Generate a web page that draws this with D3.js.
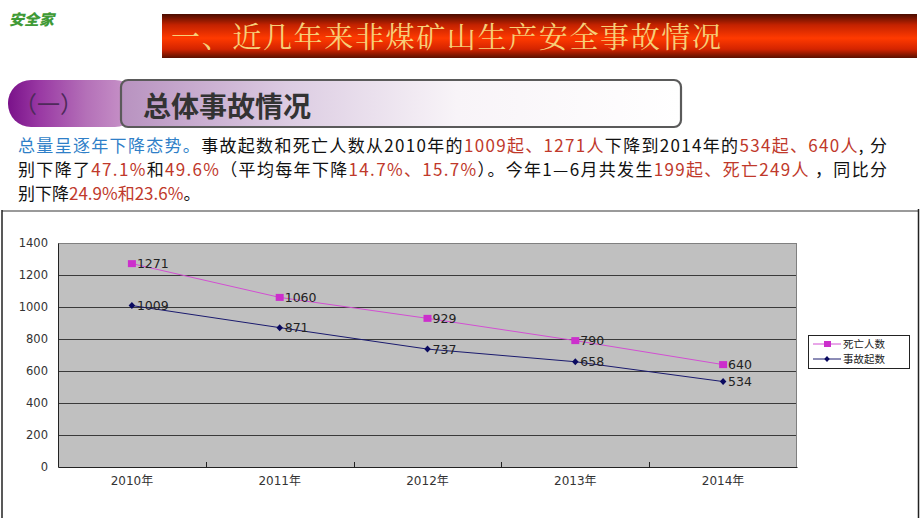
<!DOCTYPE html>
<html><head><meta charset="utf-8">
<script src="https://cdn.jsdelivr.net/npm/d3@7"></script>
<style>html,body{margin:0;padding:0;background:#fff;}svg{display:block;}</style>
</head><body>
<script>
const categories = ["2010年","2011年","2012年","2013年","2014年"];
const deaths = [1271,1060,929,790,640];     // 死亡人数
const accidents = [1009,871,737,658,534];   // 事故起数
const yTicks = [0,200,400,600,800,1000,1200,1400];
const seriesNames = ["死亡人数","事故起数"];

const W=920,H=518;
const svg=d3.select("body").append("svg").attr("width",W).attr("height",H);
const defs=svg.append("defs");
const CJK="'Noto Sans CJK SC','Noto Sans',sans-serif";

// logo
svg.append("text").attr("x",9).attr("y",25).attr("font-family",CJK).attr("font-weight",900)
  .attr("font-size",15).attr("fill","#3f9a36").attr("font-style","italic").text("安全家");

// title bar
const tg=defs.append("linearGradient").attr("id","tg").attr("x1",0).attr("y1",0).attr("x2",0).attr("y2",1);
[[0,"#4a0c00"],[0.25,"#c42200"],[0.55,"#ff3a00"],[0.8,"#d42400"],[1,"#5a1000"]].forEach(s=>tg.append("stop").attr("offset",s[0]).attr("stop-color",s[1]));
svg.append("rect").attr("x",162).attr("y",14).attr("width",755).attr("height",44).attr("fill","url(#tg)");
svg.append("text").attr("x",171).attr("y",48).attr("font-family","'Noto Serif CJK SC',"+CJK).attr("font-size",29)
  .attr("fill","#f6cf78").attr("textLength",550).attr("lengthAdjust","spacing").text("一、近几年来非煤矿山生产安全事故情况");

// section pill
const pg=defs.append("linearGradient").attr("id","pg").attr("x1",0).attr("y1",0).attr("x2",1).attr("y2",0);
[[0,"#7a128a"],[0.25,"#9a3aa4"],[0.6,"#b470b8"],[1,"#cc9ccc"]].forEach(s=>pg.append("stop").attr("offset",s[0]).attr("stop-color",s[1]));
svg.append("rect").attr("x",8).attr("y",80).attr("width",130).attr("height",47).attr("rx",23).attr("fill","url(#pg)");
svg.append("text").attr("x",14).attr("y",113).attr("font-family",CJK).attr("font-size",23).attr("fill","#4e2a5a").text("（一）");
const bg=defs.append("linearGradient").attr("id","bg").attr("x1",0).attr("y1",0).attr("x2",1).attr("y2",0);
[[0,"#b892c0"],[0.3,"#dccce2"],[0.6,"#f8f4f8"],[1,"#ffffff"]].forEach(s=>bg.append("stop").attr("offset",s[0]).attr("stop-color",s[1]));
svg.append("rect").attr("x",121).attr("y",80).attr("width",560).attr("height",47).attr("rx",7)
  .attr("fill","url(#bg)").attr("stroke","#5a5a5a").attr("stroke-width",2.2);
svg.append("text").attr("x",143).attr("y",117).attr("font-family",CJK).attr("font-weight",700).attr("font-size",28).attr("fill","#333").text("总体事故情况");

// paragraph
const BLUE="#2f7fc8",RED="#c0392b",BLK="#111";
const lines=[
  {y:152,len:869,parts:[["总量呈逐年下降态势。",BLUE],["事故起数和死亡人数从2010年的",BLK],["1009起、1271人",RED],["下降到2014年的",BLK],["534起、640人",RED],[", 分",BLK]]},
  {y:176,len:869,parts:[["别下降了",BLK],["47.1%",RED],["和",BLK],["49.6%",RED],["（平均每年下降",BLK],["14.7%、15.7%",RED],["）。今年1—6月共发生",BLK],["199起、死亡249人",RED],[" ，同比分",BLK]]},
  {y:200,len:null,parts:[["别下降",BLK],["24.9%和23.6%",RED],["。",BLK]]}
];
lines.forEach(l=>{
  const t=svg.append("text").attr("x",18).attr("y",l.y).attr("font-family",CJK).attr("font-size",17);
  if(l.len) t.attr("textLength",l.len).attr("lengthAdjust","spacing");
  l.parts.forEach(p=>t.append("tspan").attr("fill",p[1]).text(p[0]));
});

// chart frame
svg.append("line").attr("x1",2).attr("x2",918).attr("y1",211).attr("y2",211).attr("stroke","#9a9a9a").attr("stroke-width",2);
svg.append("line").attr("x1",2).attr("x2",2).attr("y1",210).attr("y2",518).attr("stroke","#222").attr("stroke-width",1.5);
svg.append("line").attr("x1",918.5).attr("x2",918.5).attr("y1",209).attr("y2",518).attr("stroke","#222").attr("stroke-width",1.5);

// plot
const L=58,R=797,T=243,B=467;
const x=d3.scaleBand().domain(categories).range([L,R]);
const y=d3.scaleLinear().domain([0,1400]).range([B,T]);
const cx=d=>x(d)+x.bandwidth()/2;
svg.append("rect").attr("x",L).attr("y",T).attr("width",R-L).attr("height",B-T).attr("fill","#c0c0c0");
svg.append("g").selectAll("line").data(yTicks.filter(v=>v>0&&v<1400)).join("line")
  .attr("x1",L).attr("x2",R).attr("y1",d=>Math.round(y(d))+0.5).attr("y2",d=>Math.round(y(d))+0.5).attr("stroke","#3a3a3a");
svg.append("line").attr("x1",L).attr("x2",R).attr("y1",T+0.5).attr("y2",T+0.5).attr("stroke","#808080");
svg.append("line").attr("x1",R-0.5).attr("x2",R-0.5).attr("y1",T).attr("y2",B).attr("stroke","#808080");

// y axis
const ya=svg.append("g").attr("transform",`translate(${L},0)`)
  .call(d3.axisLeft(y).tickValues(yTicks).tickFormat(d3.format("d")).tickSize(0).tickPadding(10));
ya.select(".domain").attr("stroke","#222");
ya.selectAll("text").attr("font-family","'DejaVu Sans',sans-serif").attr("font-size",11.5).attr("fill","#333");
// x axis
const xa=svg.append("g").attr("transform",`translate(0,${B})`)
  .call(d3.axisBottom(x).tickSize(0).tickPadding(9));
xa.select(".domain").attr("stroke","#222");
xa.selectAll("text").attr("font-family","'DejaVu Sans','Noto Sans CJK SC',sans-serif").attr("font-size",12).attr("fill","#333");
// inner category separator ticks
svg.append("g").selectAll("line").data(categories.slice(1)).join("line")
  .attr("x1",d=>Math.round(x(d))+0.5).attr("x2",d=>Math.round(x(d))+0.5).attr("y1",B-5).attr("y2",B).attr("stroke","#222");

// lines
const line=d3.line().x((d,i)=>cx(categories[i])).y(d=>y(d));
svg.append("path").datum(deaths).attr("d",line).attr("fill","none").attr("stroke","#d24fd2").attr("stroke-width",1);
svg.append("path").datum(accidents).attr("d",line).attr("fill","none").attr("stroke","#1a1a6e").attr("stroke-width",1);

// markers
svg.append("g").selectAll("rect").data(deaths).join("rect")
  .attr("x",(d,i)=>cx(categories[i])-4).attr("y",d=>y(d)-3.5).attr("width",8).attr("height",7).attr("fill","#cc2fcc");
const dia=d3.symbol().type(d3.symbolDiamond).size(22);
svg.append("g").selectAll("path").data(accidents).join("path").attr("d",dia)
  .attr("transform",(d,i)=>`translate(${cx(categories[i])},${y(d)}) scale(1.3,0.8)`).attr("fill","#0a0a60");

// data labels
const lab=(data)=>svg.append("g").selectAll("text").data(data).join("text")
  .attr("x",(d,i)=>cx(categories[i])+5).attr("y",d=>y(d)+4.5).attr("font-family","'DejaVu Sans',sans-serif")
  .attr("font-size",12.5).attr("fill","#222").text(d=>d);
lab(deaths); lab(accidents);

// legend
svg.append("rect").attr("x",808.5).attr("y",335.5).attr("width",101).attr("height",33).attr("fill","#fff").attr("stroke","#222");
const lg=[["#d24fd2","sq"],["#1a1a6e","dia"]];
lg.forEach((s,i)=>{
  const yy=344+i*15;
  svg.append("line").attr("x1",813).attr("x2",841).attr("y1",yy).attr("y2",yy).attr("stroke",s[0]);
  if(s[1]==="sq") svg.append("rect").attr("x",824).attr("y",yy-3).attr("width",7).attr("height",6).attr("fill","#cc2fcc");
  else svg.append("path").attr("d",dia).attr("transform",`translate(827,${yy}) scale(1.1,0.7)`).attr("fill","#0a0a60");
  svg.append("text").attr("x",843).attr("y",yy+4).attr("font-family",CJK).attr("font-size",10.5).attr("fill","#222").text(seriesNames[i]);
});
</script>
</body></html>
